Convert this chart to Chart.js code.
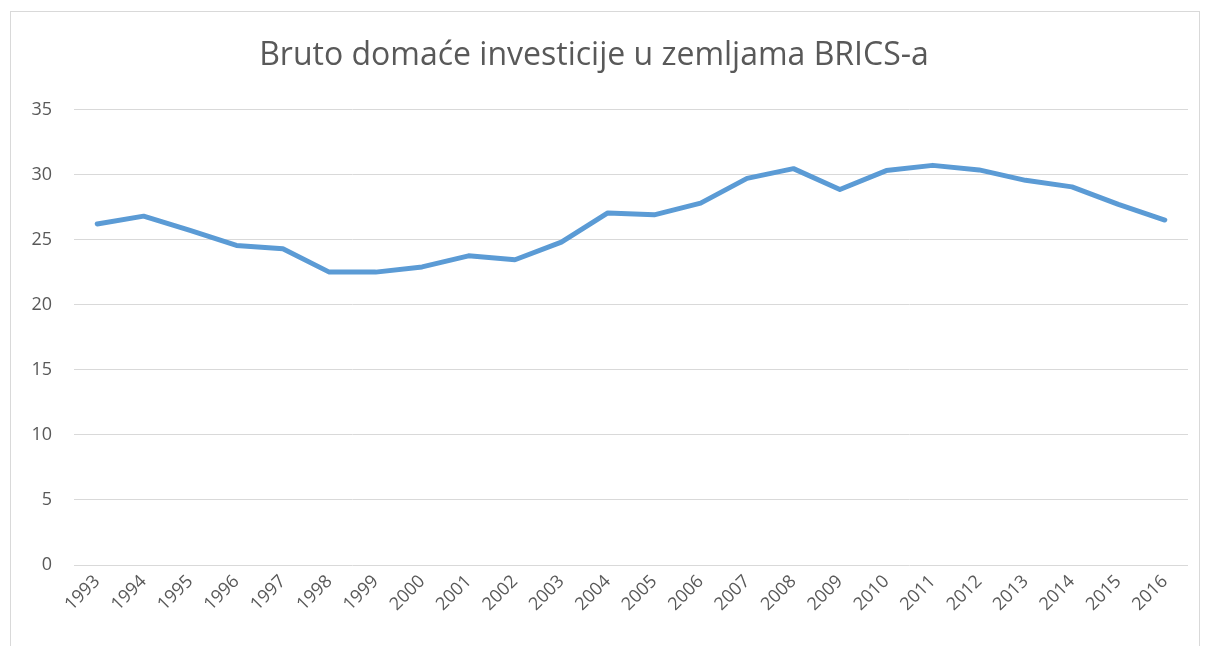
<!DOCTYPE html>
<html>
<head>
<meta charset="utf-8">
<script src="https://cdn.jsdelivr.net/npm/chart.js@4"></script>
<style>
    html, body { margin: 0; padding: 0; background: #fff; }
    #wrap { position: relative; width: 1206px; height: 646px; overflow: hidden; }
    #frame {
        position: absolute; left: 10px; top: 11px; width: 1190px; height: 700px;
        border: 1px solid #d9d9d9; box-sizing: border-box;
    }
    #c { position: absolute; left: 0; top: 0; }
</style>
</head>
<body>
<div id="wrap">
    <div id="frame"></div>
    <canvas id="c" width="1206" height="646"></canvas>
</div>
<script>
// ─── DONNÉES ──────────────────────────────────────────────────────────────
const years = ['1993', '1994', '1995', '1996', '1997', '1998', '1999', '2000',
    '2001', '2002', '2003', '2004', '2005', '2006', '2007', '2008',
    '2009', '2010', '2011', '2012', '2013', '2014', '2015', '2016'];

const investicije = [26.2, 26.8, 25.7, 24.55, 24.3, 22.5, 22.5, 22.9,
    23.75, 23.45, 24.8, 27.05, 26.9, 27.8, 29.7, 30.45,
    28.85, 30.3, 30.7, 30.35, 29.55, 29.05, 27.7, 26.5];

const yMin = 0, yMax = 35, yStep = 5;

const titleText = 'Bruto domaće investicije u zemljama BRICS-a';

// ─── GRAPHIQUE ────────────────────────────────────────────────────────────
const font = "'Open Sans', 'Noto Sans', sans-serif";
const grey = '#595959';

new Chart(document.getElementById('c').getContext('2d'), {
    type: 'line',
    data: {
        labels: years,
        datasets: [{
            data: investicije,
            borderColor: '#5b9bd5',
            borderWidth: 5,
            borderCapStyle: 'round',
            borderJoinStyle: 'round',
            pointRadius: 0,
            tension: 0,
            fill: false
        }]
    },
    options: {
        responsive: false,
        animation: false,
        layout: { padding: { left: 0, right: 18, top: 0, bottom: 0 } },
        plugins: {
            legend: { display: false },
            tooltip: { enabled: false },
            title: {
                display: true,
                text: titleText,
                color: grey,
                font: { family: font, size: 32, weight: 'normal' },
                padding: { top: 37, bottom: 34 }
            }
        },
        scales: {
            x: {
                offset: true,
                grid: { display: false, drawTicks: false },
                border: { display: false },
                ticks: {
                    color: grey,
                    font: { family: font, size: 18 },
                    minRotation: 45,
                    maxRotation: 45,
                    padding: 6,
                    autoSkip: false
                },
                afterFit: s => { s.height = 81; }
            },
            y: {
                min: yMin,
                max: yMax,
                grid: { color: '#d9d9d9', lineWidth: 1, drawTicks: false },
                border: { display: false },
                ticks: {
                    stepSize: yStep,
                    color: grey,
                    font: { family: font, size: 18 },
                    padding: 22
                },
                afterFit: s => { s.width = 74; }
            }
        }
    }
});
</script>
</body>
</html>
